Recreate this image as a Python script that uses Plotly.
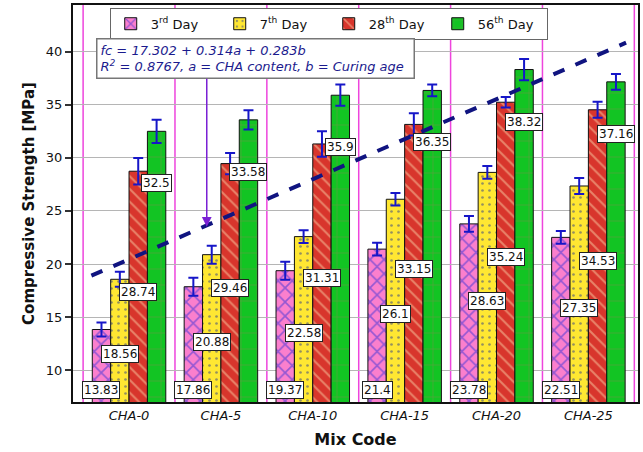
import plotly.graph_objects as go

categories = ["CHA-0", "CHA-5", "CHA-10", "CHA-15", "CHA-20", "CHA-25"]
series_names = ["3<sup>rd</sup> Day", "7<sup>th</sup> Day", "28<sup>th</sup> Day", "56<sup>th</sup> Day"]
day3 = [13.83, 17.86, 19.37, 21.4, 23.78, 22.51]
day7 = [18.56, 20.88, 22.58, 26.1, 28.63, 27.35]
day28 = [28.74, 29.46, 31.31, 33.15, 35.24, 34.53]
day56 = [32.5, 33.58, 35.9, 36.35, 38.32, 37.16]
err3 = [0.65, 0.85, 0.85, 0.6, 0.75, 0.6]
err7 = [0.7, 0.85, 0.6, 0.6, 0.6, 0.75]
err28 = [1.25, 1.0, 1.2, 1.05, 0.5, 0.75]
err56 = [1.1, 0.9, 1.0, 0.55, 1.0, 0.75]
trend_x = [-0.41, 5.41]
trend_y = [18.9, 40.85]
eq_lines = ["fc = 17.302 + 0.314a + 0.283b",
            "R<sup>2</sup> = 0.8767, a = CHA content, b = Curing age"]

values = [day3, day7, day28, day56]
errors = [err3, err7, err28, err56]

FONT = "DejaVu Sans"
styles = [
    dict(bg="#fb7fcd", fg="#2f2fd8", shape="x", size=10, sol=0.3),
    dict(bg="#ffe732", fg="#2a3a8a", shape=".", size=7, sol=0.12),
    dict(bg="#d8352c", fg="#f7d2a6", shape="\\", size=9, sol=0.22),
    dict(bg="#12c423", fg="#a07a5a", shape="+", size=16, sol=0.08),
]

# label vertical placement rules (as in original chart)
def label_pos(j, v):
    if j == 0:
        return 8.1
    if j == 1:
        return v / 2 + 2.2
    if j == 2:
        return v / 2 + 3.0
    return v - 4.9

xs = list(range(len(categories)))
fig = go.Figure()
for j, (name, vals, errs, st) in enumerate(zip(series_names, values, errors, styles)):
    fig.add_trace(go.Bar(
        x=xs, y=vals, name=name,
        marker=dict(color=st["bg"], line=dict(color="#111", width=1),
                    pattern=dict(shape=st["shape"], fgcolor=st["fg"], bgcolor=st["bg"],
                                 size=st["size"], solidity=st["sol"], fillmode="overlay")),
        error_y=dict(type="data", array=errs, visible=True, color="#1616c8",
                     thickness=2, width=5),
    ))

fig.add_trace(go.Scatter(x=trend_x, y=trend_y, mode="lines", showlegend=False,
                         line=dict(color="#101480", width=4, dash="dash")))

bw = 0.2
annotations = []
for j, vals in enumerate(values):
    for i, v in enumerate(vals):
        annotations.append(dict(
            x=i - 0.3 + bw * j, y=label_pos(j, v), xref="x", yref="y",
            text=f"{v:g}", showarrow=False,
            font=dict(family=FONT, size=12, color="#111"),
            bgcolor="white", bordercolor="#222", borderwidth=1, borderpad=1))

annotations.append(dict(
    x=0.04, y=0.918, xref="paper", yref="paper", xanchor="left", yanchor="top",
    text="<i>" + "<br>".join(eq_lines) + "</i>", align="left", showarrow=False,
    font=dict(family=FONT, size=13, color="#1b1b8e"),
    bgcolor="white", bordercolor="#777", borderwidth=1.5, borderpad=3, width=310))

annotations.append(dict(
    x=0.846, y=23.5, xref="x", yref="y", ax=0.846, ay=37.6, axref="x", ayref="y",
    text="", showarrow=True, arrowhead=2, arrowsize=1.3, arrowwidth=1.5,
    arrowcolor="#7a20d4"))

shapes = []
for k in range(len(categories) + 1):
    shapes.append(dict(type="line", xref="x", yref="paper", x0=k - 0.5, x1=k - 0.5,
                       y0=0, y1=1, line=dict(color="#ee44dd", width=1.5), layer="below"))

fig.update_layout(
    width=643, height=452,
    margin=dict(l=73, r=3, t=5, b=50),
    paper_bgcolor="white", plot_bgcolor="white",
    barmode="group", bargap=0.2, bargroupgap=0,
    font=dict(family=FONT, color="#111"),
    legend=dict(orientation="h", x=0.065, y=0.993, xanchor="left", yanchor="top",
                bgcolor="white", bordercolor="#666", borderwidth=1,
                font=dict(family=FONT, size=13, color="#111"),
                entrywidth=64, itemwidth=30, traceorder="normal"),
    annotations=annotations, shapes=shapes,
    xaxis=dict(range=[-0.61, 5.54], tickvals=xs, ticktext=categories, showgrid=False,
               showline=True, linecolor="#111", linewidth=2, mirror=True, ticks="",
               tickfont=dict(family=FONT, size=13, style="italic", color="#111"),
               title=dict(text="Mix Code", font=dict(family=FONT, size=16, weight="bold"),
                          standoff=12),
               zeroline=False),
    yaxis=dict(range=[7, 44.4], dtick=5, tick0=0, showgrid=True, gridcolor="#b5b5b5",
               gridwidth=1, showline=True, linecolor="#111", linewidth=2, mirror=True,
               ticks="outside", ticklen=6, tickwidth=1.5, tickcolor="#333",
               tickfont=dict(family=FONT, size=13, color="#111"),
               title=dict(text="Compressive Strength [MPa]",
                          font=dict(family=FONT, size=15, weight="bold"), standoff=8),
               zeroline=False),
)

fig.write_html("out.html")
